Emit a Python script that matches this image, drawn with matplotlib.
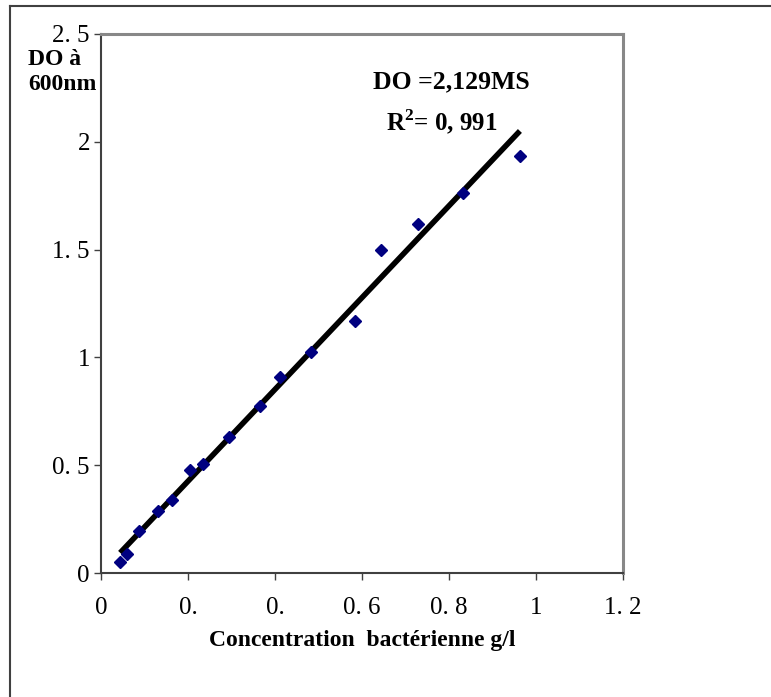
import matplotlib.pyplot as plt
import numpy as np
from matplotlib.lines import Line2D

plt.rcParams['font.family'] = ['Liberation Serif', 'DejaVu Serif']
plt.rcParams['mathtext.fontset'] = 'custom'
plt.rcParams['mathtext.rm'] = 'Liberation Serif'
plt.rcParams['mathtext.bf'] = 'Liberation Serif:bold'

# concentration (g/l) and optical density at 600 nm
conc = [0.044, 0.060, 0.088, 0.131, 0.163, 0.205, 0.234, 0.294, 0.365,
        0.412, 0.483, 0.584, 0.644, 0.729, 0.832, 0.963]
do600 = [0.051, 0.088, 0.195, 0.288, 0.339, 0.478, 0.505, 0.630, 0.773,
         0.910, 1.026, 1.169, 1.498, 1.619, 1.763, 1.935]

fit_slope = 2.129
fit_intercept = 0.0

x_ticks = [0, 0.2, 0.4, 0.6, 0.8, 1.0, 1.2]
x_labels = ['0', '0.', '0.', '0. 6', '0. 8', '1', '1. 2']
y_ticks = [0, 0.5, 1.0, 1.5, 2.0, 2.5]
y_labels = ['0', '0. 5', '1', '1. 5', '2', '2. 5']

W, H = 771, 697
fig = plt.figure(figsize=(W / 100, H / 100), dpi=100)
ax = fig.add_axes([101 / W, 1 - 573 / H, (623 - 101) / W, (573 - 34) / H])

xs = np.array([min(conc), max(conc)])
ax.plot(xs, fit_slope * xs + fit_intercept, color='black', lw=4,
        solid_capstyle='butt', zorder=2)
ax.plot(conc, do600, linestyle='none', marker='D', markersize=6.5,
        color='#000080', markeredgecolor='#000080', zorder=3)

ax.set_xlim(0, 1.2)
ax.set_ylim(0, 2.5)
ax.set_xticks(x_ticks)
ax.set_xticklabels(x_labels)
ax.set_yticks(y_ticks)
ax.set_yticklabels(y_labels)
ax.tick_params(direction='out', length=5, width=1, color='#404040',
               labelsize=18)
ax.tick_params(axis='x', pad=12)
ax.tick_params(axis='y', pad=3)

for s in ['left', 'bottom']:
    ax.spines[s].set_color('#404040')
    ax.spines[s].set_linewidth(1.5)
for s in ['top', 'right']:
    ax.spines[s].set_color('#888888')
    ax.spines[s].set_linewidth(2.2)

ax.set_xlabel('Concentration  bactérienne g/l', fontsize=17,
              fontweight='bold', labelpad=8)

fig.text(28 / W, 1 - 72 / H, 'DO à\n600nm', fontsize=17, fontweight='bold',
         ha='left', va='center', linespacing=1.25)
fig.text(373 / W, 1 - 82 / H, 'DO =2,129MS', fontsize=18.5,
         fontweight='bold', ha='left', va='center')
fig.text(386 / W, 1 - 122 / H, r'R$^{\mathbf{2}}$= 0, 991', fontsize=18,
         fontweight='bold', ha='left', va='center')

# outer frame (left and top edges)
fig.add_artist(Line2D([10 / W, 10 / W], [0, 1 - 6 / H], color='#404040',
                      lw=1.5, transform=fig.transFigure))
fig.add_artist(Line2D([10 / W, 1], [1 - 6 / H, 1 - 6 / H], color='#404040',
                      lw=1.5, transform=fig.transFigure))

fig.savefig('out.png', dpi=100)
